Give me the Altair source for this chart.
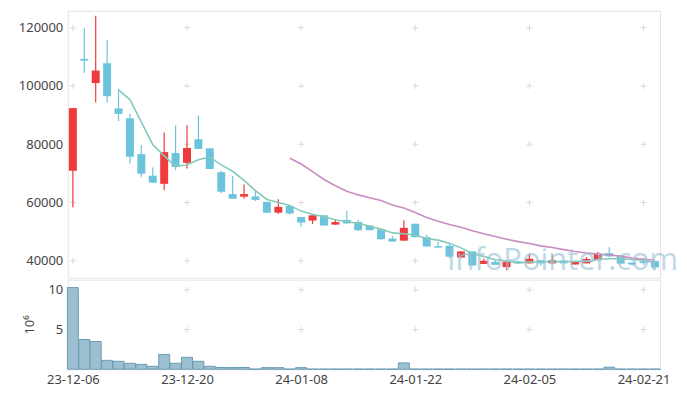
import json
import altair as alt
import pandas as pd

# ---- data ----
dates = [
    "23-12-06", "23-12-07", "23-12-08", "23-12-11", "23-12-12", "23-12-13", "23-12-14", "23-12-15",
    "23-12-18", "23-12-19", "23-12-20", "23-12-21", "23-12-22", "23-12-26", "23-12-27", "23-12-28",
    "24-01-02", "24-01-03", "24-01-04", "24-01-05", "24-01-08", "24-01-09", "24-01-10", "24-01-11",
    "24-01-12", "24-01-15", "24-01-16", "24-01-17", "24-01-18", "24-01-19", "24-01-22", "24-01-23",
    "24-01-24", "24-01-25", "24-01-26", "24-01-29", "24-01-30", "24-01-31", "24-02-01", "24-02-02",
    "24-02-05", "24-02-06", "24-02-07", "24-02-08", "24-02-13", "24-02-14", "24-02-15", "24-02-16",
    "24-02-19", "24-02-20", "24-02-21", "24-02-22",
]
opens = [
    70900, 109300, 101000, 107800, 92300, 88900, 76600, 69200, 66400, 77000,
    73600, 81700, 78600, 70400, 62900, 62000, 62100, 60200, 56500, 58800,
    55000, 53800, 55600, 52400, 54000, 53300, 52100, 50800, 47600, 46900,
    52700, 48100, 45000, 45100, 41100, 43200, 38900, 39600, 37800, 39800,
    39100, 40200, 39100, 40100, 38700, 39100, 40200, 42600, 41800, 39400,
    39800, 39900,
]
closes = [
    92400, 108700, 105300, 96500, 90400, 75700, 69900, 66800, 77300, 72200,
    78700, 78400, 71500, 63700, 61300, 62900, 60900, 56500, 58500, 56200,
    53100, 55600, 52100, 53300, 52800, 50500, 50500, 47400, 46600, 51300,
    48100, 44900, 44500, 41400, 43200, 38400, 40000, 38600, 39700, 39200,
    40700, 39100, 40200, 39100, 39900, 40600, 42400, 41500, 39000, 38700,
    39200, 37700,
]
highs = [
    92400, 119900, 124100, 115800, 99000, 90500, 79700, 72000, 84000, 86500,
    86500, 89900, 78600, 70800, 69100, 66200, 64300, 60200, 61100, 58800,
    55000, 55600, 55600, 54300, 57100, 54000, 52100, 50800, 48500, 53900,
    52700, 48900, 46400, 46100, 43200, 43200, 40700, 40300, 39700, 39800,
    42400, 40200, 42100, 40100, 39900, 41300, 43000, 44600, 41800, 39400,
    40700, 39900,
]
lows = [
    58400, 104500, 94300, 94300, 87900, 73400, 68800, 66800, 64200, 71100,
    71700, 78400, 71500, 63200, 61300, 61300, 60500, 56500, 56100, 55900,
    51700, 52600, 52100, 52400, 52800, 50200, 50500, 47200, 46600, 46900,
    48100, 44900, 44500, 40900, 41100, 38400, 38900, 38600, 36700, 39200,
    39100, 38300, 39100, 39100, 38700, 39100, 40200, 41300, 39000, 38300,
    38600, 36700,
]
volumes = [  # millions of shares
    10.3, 3.75, 3.5, 1.12, 1.0, 0.75, 0.62, 0.37, 1.87, 0.75,
    1.5, 1.0, 0.37, 0.22, 0.22, 0.22, 0.02, 0.2, 0.2, 0.02,
    0.2, 0.02, 0.02, 0.02, 0.02, 0.02, 0.02, 0.02, 0.02, 0.8,
    0.02, 0.02, 0.02, 0.02, 0.02, 0.02, 0.02, 0.02, 0.02, 0.02,
    0.02, 0.02, 0.02, 0.02, 0.02, 0.02, 0.02, 0.25, 0.02, 0.02,
    0.02, 0.02,
]

x_ticks = [0, 10, 20, 30, 40, 50]
price_ticks = [40000, 60000, 80000, 100000, 120000]
volume_ticks = [5, 10]
watermark = "InfoPointer.com"

# ---- tables ----
df = pd.DataFrame({
    "idx": list(range(len(dates))),
    "date": dates,
    "open": opens,
    "close": closes,
    "high": highs,
    "low": lows,
    "volume": volumes,
})
df["dir"] = ["up" if c >= o else "down" for o, c in zip(opens, closes)]

price_grid = pd.DataFrame([(x, y) for x in x_ticks for y in price_ticks], columns=["gx", "gy"])
vol_grid = pd.DataFrame([(x, y) for x in x_ticks for y in volume_ticks], columns=["gx", "gy"])

RED = "#ef3b3b"
BLUE = "#6cc4dc"
FONT = "Noto Sans"
LABEL = "#444444"
PLUS = "M-1,0L1,0M0,-1L0,1"

x_scale = alt.Scale(domain=[-0.45, len(dates) - 0.55], nice=False, zero=False, padding=0)
p_scale = alt.Scale(domain=[34200, 125800], nice=False, zero=False, padding=0)
v_scale = alt.Scale(domain=[0, 11.3], nice=False, padding=0)
color_scale = alt.Scale(domain=["up", "down"], range=[RED, BLUE])

base = alt.Chart(df)

price_axis = alt.Axis(values=price_ticks, format="d", ticks=False, domain=False, grid=False,
                      labelPadding=5, title=None)

p_cross = alt.Chart(price_grid).mark_point(shape=PLUS, size=36, filled=False, stroke="#d9d9d9",
                                           strokeWidth=1, opacity=1).encode(
    x=alt.X("gx:Q", scale=x_scale, axis=None),
    y=alt.Y("gy:Q", scale=p_scale, axis=price_axis),
)

wicks = base.mark_rule(strokeWidth=1.2).encode(
    x=alt.X("idx:Q", scale=x_scale, axis=None),
    y=alt.Y("low:Q", scale=p_scale, axis=price_axis),
    y2="high:Q",
    color=alt.Color("dir:N", scale=color_scale, legend=None),
)

bodies = base.mark_bar(size=8).encode(
    x=alt.X("idx:Q", scale=x_scale, axis=None),
    y=alt.Y("open:Q", scale=p_scale, axis=price_axis),
    y2="close:Q",
    color=alt.Color("dir:N", scale=color_scale, legend=None),
)

ma5 = base.transform_window(
    ma="mean(close)", frame=[-4, 0], sort=[alt.SortField("idx")]
).transform_filter(alt.datum.idx >= 4).mark_line(color="#84cbbb", strokeWidth=1.6).encode(
    x=alt.X("idx:Q", scale=x_scale, axis=None),
    y=alt.Y("ma:Q", scale=p_scale, axis=price_axis),
)

ma20 = base.transform_window(
    ma="mean(close)", frame=[-19, 0], sort=[alt.SortField("idx")]
).transform_filter(alt.datum.idx >= 19).mark_line(color="#c98cc1", strokeWidth=1.6).encode(
    x=alt.X("idx:Q", scale=x_scale, axis=None),
    y=alt.Y("ma:Q", scale=p_scale, axis=price_axis),
)

wm = alt.Chart(pd.DataFrame({"t": [watermark]})).mark_text(
    font="Open Sans", fontSize=31, color="#9ac1d5", opacity=0.62, align="center", baseline="middle"
).encode(text="t:N", x=alt.value(497), y=alt.value(251))

top = alt.layer(p_cross, wicks, bodies, ma5, ma20, wm).properties(width=595, height=268)

vol_axis = alt.Axis(values=volume_ticks, format="d", ticks=False, domain=False, grid=False,
                    labelPadding=5, title="10\u2076", titleX=-38, titleY=45, titleAngle=-90,
                    titleAlign="center", titleBaseline="middle", titleFontWeight="normal",
                    titleFontSize=13, titleFont=FONT, titleColor=LABEL)
x_axis = alt.Axis(values=x_ticks, labelExpr=json.dumps(dates) + "[datum.value]", ticks=False,
                  domain=False, grid=False, labelPadding=4, title=None, labelFlush=False)

v_cross = alt.Chart(vol_grid).mark_point(shape=PLUS, size=36, filled=False, stroke="#d9d9d9",
                                         strokeWidth=1, opacity=1).encode(
    x=alt.X("gx:Q", scale=x_scale, axis=x_axis),
    y=alt.Y("gy:Q", scale=v_scale, axis=vol_axis),
)

vbars = base.mark_bar(size=11, fill="#9cc0d0", stroke="#6b9cb6", strokeWidth=1, fillOpacity=1).encode(
    x=alt.X("idx:Q", scale=x_scale, axis=x_axis),
    y=alt.Y("volume:Q", scale=v_scale, axis=vol_axis),
)

bottom = alt.layer(v_cross, vbars).properties(width=595, height=90)

chart = alt.vconcat(top, bottom, spacing=0).properties(
    padding={"left": 9, "top": 1, "right": 0, "bottom": 0}
).configure_view(
    stroke="#e3e3e3", strokeWidth=1
).configure_axis(
    labelFont=FONT, labelFontSize=13, labelColor=LABEL
)

chart.save("out.html", embed_options={"renderer": "svg", "actions": False})
